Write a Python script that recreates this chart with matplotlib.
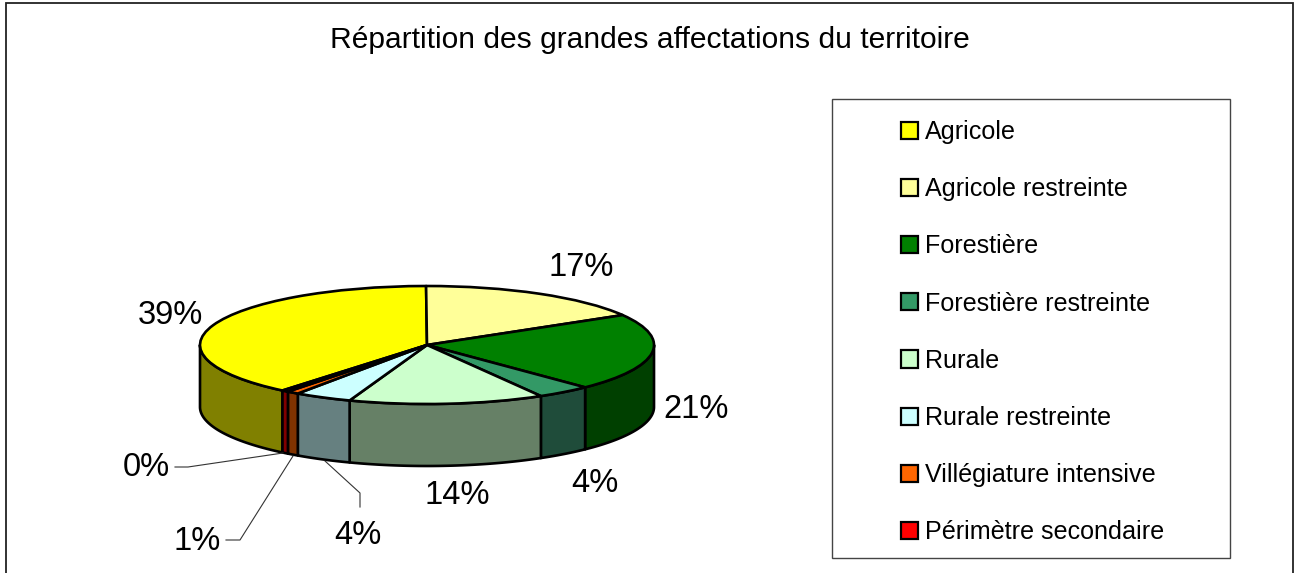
import numpy as np
import matplotlib
matplotlib.use("Agg")
import matplotlib.pyplot as plt
from matplotlib.patches import Patch, Polygon, Rectangle

plt.rcParams['font.family'] = ['Liberation Sans', 'DejaVu Sans']

W, H = 1298, 573
title = "Répartition des grandes affectations du territoire"
categories = ["Agricole", "Agricole restreinte", "Forestière", "Forestière restreinte",
              "Rurale", "Rurale restreinte", "Villégiature intensive", "Périmètre secondaire"]
values = [38.95, 16.6, 21.2, 3.9, 13.9, 4.1, 0.86, 0.49]
top_colors = ["#FFFF00", "#FFFF99", "#008000", "#339966", "#CCFFCC", "#CCFFFF", "#FF6600", "#FF0000"]
side_colors = ["#808000", "#80804C", "#004000", "#1F4C3A", "#668066", "#668080", "#803300", "#800000"]
first_angle = 219.55  # clockwise from 12 o'clock
label_xy = [(170, 316), (581, 268), (696, 410), (595, 484), (457, 496), (358, 536), (197, 542), (146, 468)]
leaders = {
    7: [(175, 467), (188, 467), (283, 453)],
    6: [(226, 540), (240, 540), (293, 456)],
    5: [(360, 507), (360, 493), (325, 461)],
}

# pie geometry in pixels
cx, cy, rx, ry, depth = 427, 345, 227, 59, 62

fig = plt.figure(figsize=(W / 100, H / 100), dpi=100)
px = fig.add_axes([0, 0, 1, 1], zorder=3)
px.set_xlim(0, W); px.set_ylim(H, 0); px.axis('off'); px.patch.set_alpha(0)

ax = fig.add_axes([0, 0, 1, 1], zorder=2)
wedges, _ = ax.pie(values, colors=top_colors, startangle=90 - first_angle, counterclock=False,
                   wedgeprops=dict(edgecolor='black', linewidth=1.9, joinstyle='round'))
ax.set_aspect('auto')
ax.set_xlim(-cx / rx, (W - cx) / rx)
ax.set_ylim((cy - H) / ry, cy / ry)
ax.axis('off')
d = depth / ry

# extruded walls for the front half of the ellipse
shares = np.array(values) / sum(values) * 360
start = first_angle
for i, s in enumerate(shares):
    a0, a1 = start, start + s
    start = a1
    for shift in (0, 360):
        lo = max(a0 - shift, 90)
        hi = min(a1 - shift, 270)
        if hi > lo:
            t = np.radians(np.linspace(lo, hi, 80))
            xs, ys = np.sin(t), np.cos(t)
            pts = np.r_[np.c_[xs, ys], np.c_[xs, ys - d][::-1]]
            ax.add_patch(Polygon(pts, closed=True, facecolor=side_colors[i], edgecolor='black',
                                 linewidth=1.9, joinstyle='round', zorder=0.5))

# outer frame (bottom edge is cut off by the image)
px.plot([6, 6, 1293, 1293], [H, 2.5, 2.5, H], color='#222222', lw=1.3, solid_joinstyle='miter')

px.text(650, 40, title, fontsize=21.6, ha='center', va='center', color='black')

for i, v in enumerate(values):
    x, y = label_xy[i]
    px.text(x, y, f"{round(v)}%", fontsize=23.5, ha='center', va='center', color='black')
for pts in leaders.values():
    xs, ys = zip(*pts)
    px.plot(xs, ys, color='#333333', lw=0.8)

# legend
px.add_patch(Rectangle((832, 99), 398, 459, facecolor='white', edgecolor='#444444', lw=1.0, zorder=1))
fs = 18.1
handles = [Patch(facecolor=c, edgecolor='black', linewidth=1.6) for c in top_colors]
leg = px.legend(handles, categories, loc='upper left', bbox_to_anchor=(901, 120),
                bbox_transform=px.transData, frameon=False, fontsize=fs,
                borderpad=0, borderaxespad=0, handlelength=0.68, handleheight=0.68,
                handletextpad=0.26, labelspacing=1.321)
leg.set_zorder(4)

fig.savefig("out.png", dpi=100, facecolor='white')
